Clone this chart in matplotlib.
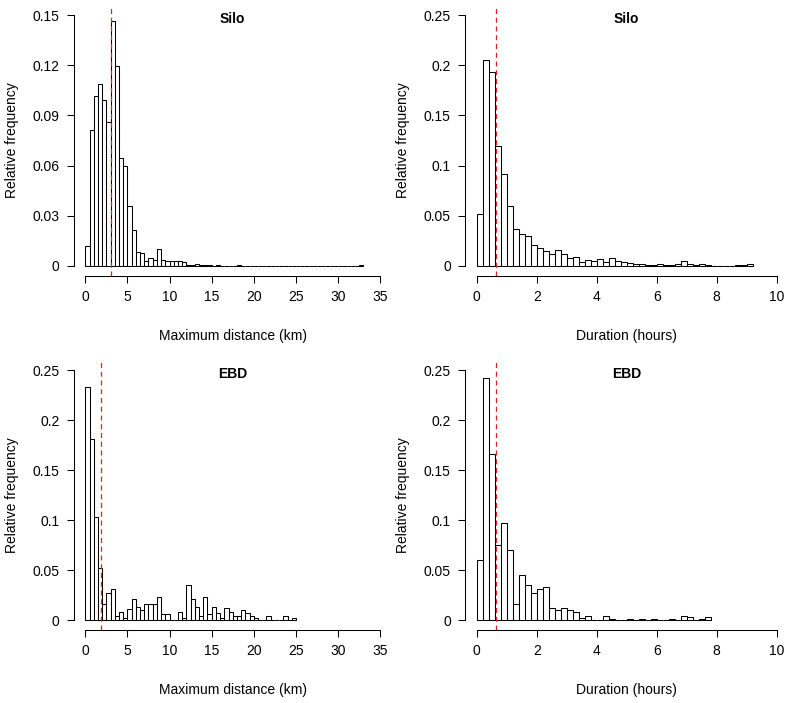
import numpy as np
import matplotlib
matplotlib.use("Agg")
import matplotlib.pyplot as plt

plt.rcParams['font.family'] = ['Liberation Sans', 'DejaVu Sans']

# relative frequencies, 0.5 km bins starting at 0
silo_dist = [0.012, 0.081, 0.1016, 0.109, 0.0992, 0.0859, 0.1466, 0.1195, 0.0647, 0.060,
             0.0359, 0.0215, 0.0085, 0.0075, 0.0029, 0.0047, 0.0035, 0.0102, 0.0037, 0.0029,
             0.0029, 0.0029, 0.0029, 0.0022, 0.0008, 0.0008, 0.0014, 0.0006, 0.0006, 0.0004,
             0, 0.0006, 0, 0, 0, 0, 0.0006, 0, 0, 0,
             0, 0, 0, 0, 0, 0, 0, 0, 0, 0,
             0, 0, 0, 0, 0, 0, 0, 0, 0, 0,
             0, 0, 0, 0, 0, 0.0004]
ebd_dist = [0.2333, 0.1807, 0.1027, 0.0525, 0.0164, 0.0268, 0.031, 0.0037, 0.0084, 0.0017,
            0.011, 0.0207, 0.0127, 0.0104, 0.0164, 0.0164, 0.0164, 0.0228, 0.006, 0.006,
            0, 0, 0.0084, 0.002, 0.035, 0.0207, 0.0127, 0.0037, 0.0228, 0.006,
            0.0127, 0.0067, 0.002, 0.0124, 0.0084, 0.004, 0.004, 0.01, 0.0067, 0.004,
            0.002, 0, 0, 0.0037, 0, 0, 0, 0.0037, 0, 0.0017]
# relative frequencies, 0.2 hour bins starting at 0
silo_dur = [0.0515, 0.205, 0.193, 0.120, 0.092, 0.0594, 0.0372, 0.0315, 0.0295, 0.0206,
            0.0179, 0.0153, 0.0116, 0.0156, 0.0116, 0.0076, 0.0086, 0.0043, 0.006, 0.0046,
            0.0073, 0.0043, 0.0076, 0.005, 0.0043, 0.0033, 0.002, 0.002, 0.001, 0.001,
            0.0017, 0.0007, 0.0007, 0.0017, 0.0046, 0.0017, 0.001, 0.0023, 0.001, 0.0003,
            0.0003, 0, 0, 0.0007, 0.0007, 0.002]
ebd_dur = [0.060, 0.242, 0.166, 0.0748, 0.0974, 0.0705, 0.0163, 0.0455, 0.0349, 0.0266,
           0.0306, 0.0329, 0.0123, 0.01, 0.0123, 0.0103, 0.0076, 0.002, 0.0037, 0,
           0, 0.0037, 0.0013, 0, 0, 0.0013, 0, 0.0013, 0, 0.0013,
           0, 0, 0.0013, 0, 0.0037, 0.0027, 0, 0.0013, 0.0033]

medians = {"silo_dist": 3.02, "ebd_dist": 1.83, "silo_dur": 0.65, "ebd_dur": 0.63}

W, H = 792, 703
fig = plt.figure(figsize=(W / 100, H / 100), dpi=100)


def panel(px, py, pw, ph, vals, bw, xmax, xticks, ymax, yticks, ylabels, title, xlabel, med):
    ax = fig.add_axes([px / W, 1 - (py + ph) / H, pw / W, ph / H])
    edges = np.arange(len(vals)) * bw
    ax.bar(edges, vals, width=bw, align='edge', color='white', edgecolor='black', linewidth=0.75)
    ax.axvline(med, color='#dd2222', linestyle=(0, (4, 3)), linewidth=0.9)
    ax.set_xlim(-0.04 * xmax, 1.04 * xmax)
    ax.set_ylim(-0.04 * ymax, 1.04 * ymax)
    for s in ['top', 'right']:
        ax.spines[s].set_visible(False)
    ax.spines['left'].set_bounds(0, ymax)
    ax.spines['bottom'].set_bounds(0, xmax)
    for s in ['left', 'bottom']:
        ax.spines[s].set_linewidth(0.75)
    ax.set_xticks(xticks)
    ax.set_yticks(yticks)
    ax.set_yticklabels(ylabels)
    ax.tick_params(length=5, width=0.75, labelsize=10, pad=5)
    ax.set_xlabel(xlabel, fontsize=10, labelpad=18)
    ax.set_ylabel("Relative frequency", fontsize=10, labelpad=10)
    ax.text(0.5, 0.975, title, transform=ax.transAxes, ha='center', va='top',
            fontsize=10, fontweight='bold')
    return ax


panel(73.5, 5, 318.5, 271, silo_dist, 0.5, 35, range(0, 36, 5), 0.15,
      [0, 0.03, 0.06, 0.09, 0.12, 0.15], ["0", "0.03", "0.06", "0.09", "0.12", "0.15"],
      "Silo", "Maximum distance (km)", medians["silo_dist"])
panel(464.7, 5, 324, 271, silo_dur, 0.2, 10, range(0, 11, 2), 0.25,
      [0, 0.05, 0.1, 0.15, 0.2, 0.25], ["0", "0.05", "0.1", "0.15", "0.2", "0.25"],
      "Silo", "Duration (hours)", medians["silo_dur"])
panel(73.5, 360, 318.5, 270, ebd_dist, 0.5, 35, range(0, 36, 5), 0.25,
      [0, 0.05, 0.1, 0.15, 0.2, 0.25], ["0", "0.05", "0.1", "0.15", "0.2", "0.25"],
      "EBD", "Maximum distance (km)", medians["ebd_dist"])
panel(464.7, 360, 324, 270, ebd_dur, 0.2, 10, range(0, 11, 2), 0.25,
      [0, 0.05, 0.1, 0.15, 0.2, 0.25], ["0", "0.05", "0.1", "0.15", "0.2", "0.25"],
      "EBD", "Duration (hours)", medians["ebd_dur"])

fig.savefig("out.png", dpi=100)
